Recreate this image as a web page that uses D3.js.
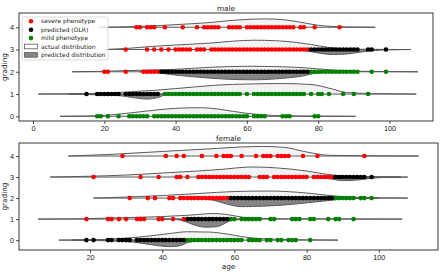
<!DOCTYPE html>
<html>
<head>
<meta charset="utf-8">
<script src="https://cdn.jsdelivr.net/npm/d3@7"></script>
<style>
  body { margin: 0; background: #fff; }
  svg { display: block; font-family: "DejaVu Sans", sans-serif; }
  .axis text { font-size: 7.3px; fill: #222; }
  .axis path, .axis line { stroke: #222; stroke-width: 0.8; }
</style>
</head>
<body>
<div id="chart"></div>
<script>
// ---- data ----
const grades = [0, 1, 2, 3, 4];
const maleTicks = [0, 20, 40, 60, 80, 100];
const femaleTicks = [20, 40, 60, 80, 100];

// male: ages of dots per grade row
const maleRed4 = [29, 30, 32, 33, 34, 37, 42, 46, 48, 49, 50, 51, 52, 55, 56, 57, 58, 60, 61, 62, 63, 64, 65, 66, 67, 68, 69, 70, 71, 72, 73, 75, 76, 79, 86];
const maleRed3 = [26, 32, 34, 36, 38, 40, 41, 42, 43, 44, 46, 47, 48, 50, 51, 52, 53, 54, 55, 56, 57, 58, 59, 60, 61, 62, 63, 64, 65, 66, 67, 68, 69, 70, 71, 72, 73, 74, 75, 76, 77];
const maleBlack3 = [78, 79, 80, 81, 82, 83, 84, 85, 86, 87, 88, 89, 90, 91, 94, 95, 99];
const maleRed2 = [20, 21, 26, 31, 32, 33, 34, 35];
const maleBlack2 = [36, 37, 38, 39, 40, 41, 42, 43, 44, 45, 46, 47, 48, 49, 50, 51, 52, 53, 54, 55, 56, 57, 58, 59, 60, 61, 62, 63, 64, 65, 66, 67, 68, 69, 70, 71, 72, 73, 74, 75, 76, 77];
const maleGreen2 = [78, 79, 80, 81, 82, 83, 84, 85, 86, 87, 88, 89, 90, 91, 95, 99];
const maleBlack1 = [15, 18, 19, 20, 21, 22, 23, 24, 26, 27, 28, 29, 30, 31, 32, 33, 34, 35];
const maleGreen1 = [37, 38, 39, 40, 41, 42, 43, 44, 45, 46, 47, 48, 49, 50, 51, 52, 53, 54, 55, 56, 57, 58, 60, 62, 63, 64, 65, 66, 67, 68, 69, 70, 71, 72, 73, 74, 75, 76, 78, 80, 81, 83, 87, 90, 94];
const maleGreen0 = [18, 19, 21, 24, 27, 28, 29, 30, 31, 32, 34, 35, 36, 37, 38, 39, 40, 41, 42, 43, 44, 45, 46, 47, 48, 49, 50, 51, 52, 53, 54, 55, 56, 57, 58, 59, 60, 62, 63, 64, 65, 70, 71, 72, 79, 80];

// female: ages of dots per grade row
const femRed4 = [29, 41, 44, 46, 51, 55, 57, 58, 59, 62, 66, 68, 69, 70, 72, 73, 74, 75, 79, 83, 96];
const femRed3 = [21, 34, 39, 44, 45, 47, 50, 51, 52, 53, 54, 55, 56, 57, 58, 59, 60, 61, 62, 63, 64, 67, 68, 69, 71, 72, 73, 74, 75, 76, 77, 78, 79, 80, 82, 83, 84, 85, 86, 87];
const femBlack3 = [88, 89, 90, 91, 92, 93, 94, 95, 96, 98];
const femRed2 = [31, 36, 38, 42, 43, 45, 46, 47, 48, 49, 50, 51, 52, 53, 54, 55, 56, 57, 58];
const femBlack2 = [59, 60, 61, 62, 63, 64, 65, 66, 67, 68, 69, 70, 71, 72, 73, 74, 75, 76, 77, 78, 79, 80, 81, 82, 83, 84, 85, 86, 87];
const femGreen2 = [88, 89, 90, 91, 92, 93, 95, 96, 98];
const femRed1 = [19, 25, 26, 28, 30, 33, 34, 35, 39, 40, 43, 46];
const femBlack1 = [47, 48, 49, 50, 51, 52, 53, 54, 55, 56, 57, 58];
const femGreen1 = [59, 60, 62, 63, 64, 65, 66, 67, 70, 71, 76, 77, 78, 81, 82, 86, 88, 89, 93];
const femBlack0 = [19, 21, 25, 26, 28, 29, 30, 31, 33, 34, 35, 36, 37, 38, 39, 40, 41, 42, 43, 44, 45, 46];
const femGreen0 = [47, 48, 49, 50, 51, 52, 53, 54, 55, 56, 57, 58, 59, 60, 61, 62, 64, 65, 66, 67, 69, 70, 72, 73, 75, 76, 77, 81];

// violin halves: [age, density] (upper = actual, lower = predicted)
const maleActual4 = [[18.5, 0], [30, 0.8], [42, 3], [50, 4.8], [55, 6.6], [60, 7.8], [65, 8.3], [70, 7.6], [75, 5], [80, 2], [85, 0.6], [90, 0.2], [96, 0]];
const maleActual3 = [[20, 0], [26, 1], [33, 3], [40, 4.5], [50, 6.5], [56, 8.3], [62, 9.3], [68, 8.8], [74, 7], [78, 5], [83, 2], [87, 0.8], [92, 0.3], [103, 0]];
const malePred3 = [[72, 0], [76, 1], [80, 3.5], [84, 5], [88, 4.5], [92, 2.5], [96, 1], [100, 0.3], [106, 0]];
const maleActual2 = [[11, 0], [20, 0.5], [30, 1.5], [40, 2.5], [50, 4.5], [60, 5.5], [70, 5], [78, 3.5], [85, 1.5], [92, 0.5], [100, 0.2], [108, 0]];
const malePred2 = [[30, 0], [34, 0.5], [37, 2], [45, 5], [55, 7.5], [62, 8], [70, 6.5], [76, 4], [79, 1.5], [83, 0.4], [90, 0]];
const maleActual1 = [[1.5, 0], [15, 0.3], [26, 2], [35, 4], [45, 7], [52, 9], [60, 10], [70, 10.5], [78, 9.5], [84, 5], [88, 1.5], [95, 0.5], [107.5, 0]];
const malePred1 = [[10, 0], [15, 0.5], [20, 1], [24, 1.5], [28, 3.5], [32, 5], [35, 3.5], [37, 1], [40, 0.3], [45, 0]];
const maleActual0 = [[7.6, 0], [15, 0.3], [20, 1], [25, 2.5], [30, 4.5], [35, 6.5], [40, 8], [47, 8.6], [52, 7.2], [56, 5], [60, 3], [65, 1.5], [70, 0.5], [80, 0.2], [90.5, 0]];

const femActual4 = [[14, 0], [25, 1.5], [35, 3.5], [45, 5.5], [55, 7.5], [62, 9], [68, 9.5], [74, 8.5], [80, 4], [86, 0.8], [95, 0.3], [111, 0]];
const femActual3 = [[9, 0], [20, 0.8], [30, 2], [40, 4], [50, 6], [56, 7.5], [65, 10], [72, 9], [80, 6], [86, 2.5], [92, 0.8], [100, 0.3], [106, 0]];
const femPred3 = [[82, 0], [86, 1.5], [90, 3.5], [94, 3], [98, 1.2], [102, 0.3], [108, 0]];
const femActual2 = [[21, 0], [30, 1], [40, 2.5], [50, 4.5], [60, 6.5], [70, 7], [80, 5], [88, 2], [95, 0.5], [108, 0]];
const femPred2 = [[50, 0.3], [54, 2], [58, 6], [62, 8.5], [68, 8], [75, 6.5], [82, 4], [86, 2.5], [90, 0.8], [95, 0.2], [100, 0]];
const femActual1 = [[5.6, 0], [20, 0.5], [30, 1.5], [40, 2.5], [48, 4], [54, 5.5], [58, 4.5], [62, 2], [66, 0.8], [75, 0.3], [90, 0.2], [106.5, 0]];
const femPred1 = [[40, 0], [44, 0.5], [46, 2], [49, 6], [52, 8], [55, 7.5], [57, 5], [59, 1.5], [62, 0.3], [66, 0]];
const femActual0 = [[11.4, 0], [20, 0.3], [28, 1.5], [35, 3.5], [42, 6.5], [47, 8.3], [53, 8], [58, 6], [62, 3.5], [66, 1.8], [72, 0.8], [80, 0.3], [88.7, 0]];
const femPred0 = [[15, 0], [20, 0.3], [26, 0.8], [32, 2], [37, 4.5], [42, 6.5], [45, 5.5], [47, 2.5], [50, 0.7], [55, 0]];

// ---- drawing ----
const W = 440, H = 273;
const svg = d3.select("#chart").append("svg").attr("width", W).attr("height", H);

const RED = "#ff0000", GREEN = "#008000", BLACK = "#000000";

function drawPanel(opt) {
  const x = d3.scaleLinear().domain(opt.xDomain).range([opt.left, opt.right]);
  const y = d3.scaleLinear().domain(opt.yDomain).range([opt.bottom, opt.top]);
  const w = d3.scaleLinear().domain([0, 10]).range([0, opt.wMax]);
  const g = svg.append("g");

  const clipId = "clip-" + opt.title;
  g.append("clipPath").attr("id", clipId)
    .append("rect")
    .attr("x", opt.left).attr("y", opt.top)
    .attr("width", opt.right - opt.left).attr("height", opt.bottom - opt.top);
  const plot = g.append("g").attr("clip-path", `url(#${clipId})`);

  // violins: upper half actual, lower half predicted
  opt.violins.forEach((v) => {
    const area = d3.area()
      .x((d) => x(d[0]))
      .y0(() => y(v.grade))
      .y1((d) => y(v.grade + v.side * w(d[1])))
      .curve(d3.curveMonotoneX);
    plot.append("path")
      .datum(v.data)
      .attr("d", area)
      .attr("fill", v.side > 0 ? "#f3f3f3" : "#858585")
      .attr("stroke", "#5a5a5a")
      .attr("stroke-width", 1)
      .attr("stroke-linejoin", "round");
  });

  // dots: actual phenotype first, predicted on top
  const order = [RED, GREEN, BLACK];
  order.forEach((col) => {
    opt.dots.filter((s) => s.color === col).forEach((s) => {
      plot.selectAll(null)
        .data(s.ages)
        .enter()
        .append("circle")
        .attr("cx", (d) => x(d))
        .attr("cy", y(s.grade))
        .attr("r", 2.3)
        .attr("fill", col);
    });
  });

  // axes
  g.append("g")
    .attr("class", "axis")
    .attr("transform", `translate(0,${opt.bottom})`)
    .call(d3.axisBottom(x).tickValues(opt.xTicks).tickSize(3).tickPadding(2).tickSizeOuter(0));
  g.append("g")
    .attr("class", "axis")
    .attr("transform", `translate(${opt.left},0)`)
    .call(d3.axisLeft(y).tickValues(grades).tickFormat(d3.format("d")).tickSize(3).tickPadding(2).tickSizeOuter(0));
  g.selectAll(".axis .domain").remove();

  g.append("rect")
    .attr("x", opt.left).attr("y", opt.top)
    .attr("width", opt.right - opt.left).attr("height", opt.bottom - opt.top)
    .attr("fill", "none").attr("stroke", "#222").attr("stroke-width", 0.9);

  g.append("text")
    .attr("x", (opt.left + opt.right) / 2)
    .attr("y", opt.top - 2.5)
    .attr("text-anchor", "middle")
    .style("font-size", "7.3px").attr("fill", "#222")
    .text(opt.title);

  g.append("text")
    .attr("transform", `translate(7,${(opt.top + opt.bottom) / 2}) rotate(-90)`)
    .attr("text-anchor", "middle")
    .style("font-size", "7.3px").attr("fill", "#222")
    .text("grading");

  if (opt.xlabel) {
    g.append("text")
      .attr("x", (opt.left + opt.right) / 2)
      .attr("y", opt.bottom + 18.5)
      .attr("text-anchor", "middle")
      .style("font-size", "7.3px").attr("fill", "#222")
      .text(opt.xlabel);
  }
}

drawPanel({
  title: "male",
  left: 19, right: 433, top: 13, bottom: 121,
  xDomain: [-3.93, 112.2], yDomain: [-0.21, 4.64], wMax: 0.45,
  xTicks: maleTicks,
  violins: [
    { grade: 4, side: 1, data: maleActual4 },
    { grade: 3, side: 1, data: maleActual3 },
    { grade: 3, side: -1, data: malePred3 },
    { grade: 2, side: 1, data: maleActual2 },
    { grade: 2, side: -1, data: malePred2 },
    { grade: 1, side: 1, data: maleActual1 },
    { grade: 1, side: -1, data: malePred1 },
    { grade: 0, side: 1, data: maleActual0 },
  ],
  dots: [
    { grade: 4, color: RED, ages: maleRed4 },
    { grade: 3, color: RED, ages: maleRed3 },
    { grade: 3, color: BLACK, ages: maleBlack3 },
    { grade: 2, color: RED, ages: maleRed2 },
    { grade: 2, color: BLACK, ages: maleBlack2 },
    { grade: 2, color: GREEN, ages: maleGreen2 },
    { grade: 1, color: BLACK, ages: maleBlack1 },
    { grade: 1, color: GREEN, ages: maleGreen1 },
    { grade: 0, color: GREEN, ages: maleGreen0 },
  ],
});

drawPanel({
  title: "female",
  xlabel: "age",
  left: 19, right: 438, top: 143, bottom: 250,
  xDomain: [0.33, 116.4], yDomain: [-0.47, 4.62], wMax: 0.48,
  xTicks: femaleTicks,
  violins: [
    { grade: 4, side: 1, data: femActual4 },
    { grade: 3, side: 1, data: femActual3 },
    { grade: 3, side: -1, data: femPred3 },
    { grade: 2, side: 1, data: femActual2 },
    { grade: 2, side: -1, data: femPred2 },
    { grade: 1, side: 1, data: femActual1 },
    { grade: 1, side: -1, data: femPred1 },
    { grade: 0, side: 1, data: femActual0 },
    { grade: 0, side: -1, data: femPred0 },
  ],
  dots: [
    { grade: 4, color: RED, ages: femRed4 },
    { grade: 3, color: RED, ages: femRed3 },
    { grade: 3, color: BLACK, ages: femBlack3 },
    { grade: 2, color: RED, ages: femRed2 },
    { grade: 2, color: BLACK, ages: femBlack2 },
    { grade: 2, color: GREEN, ages: femGreen2 },
    { grade: 1, color: RED, ages: femRed1 },
    { grade: 1, color: BLACK, ages: femBlack1 },
    { grade: 1, color: GREEN, ages: femGreen1 },
    { grade: 0, color: BLACK, ages: femBlack0 },
    { grade: 0, color: GREEN, ages: femGreen0 },
  ],
});

// legend (top panel)
const legendItems = [
  { label: "severe phenotype", kind: "dot", color: RED },
  { label: "predicted (OLR)", kind: "dot", color: BLACK },
  { label: "mild phenotype", kind: "dot", color: GREEN },
  { label: "actual distribution", kind: "patch", color: "#ffffff" },
  { label: "predicted distribution", kind: "patch", color: "#858585" },
];
const lg = svg.append("g");
lg.append("rect")
  .attr("x", 22).attr("y", 17).attr("width", 86).attr("height", 43)
  .attr("rx", 1.5)
  .attr("fill", "#fff").attr("fill-opacity", 0.8)
  .attr("stroke", "#d0d0d0").attr("stroke-width", 0.8);
legendItems.forEach((it, i) => {
  const cy = 21.3 + i * 8.4;
  if (it.kind === "dot") {
    lg.append("circle").attr("cx", 31).attr("cy", cy).attr("r", 2.3).attr("fill", it.color);
  } else {
    lg.append("rect")
      .attr("x", 24.5).attr("y", cy - 2.3).attr("width", 13).attr("height", 4.6)
      .attr("fill", it.color).attr("stroke", "#5a5a5a").attr("stroke-width", 0.8);
  }
  lg.append("text")
    .attr("x", 41).attr("y", cy + 2.1)
    .style("font-size", "6px").attr("fill", "#222")
    .text(it.label);
});
</script>
</body>
</html>
